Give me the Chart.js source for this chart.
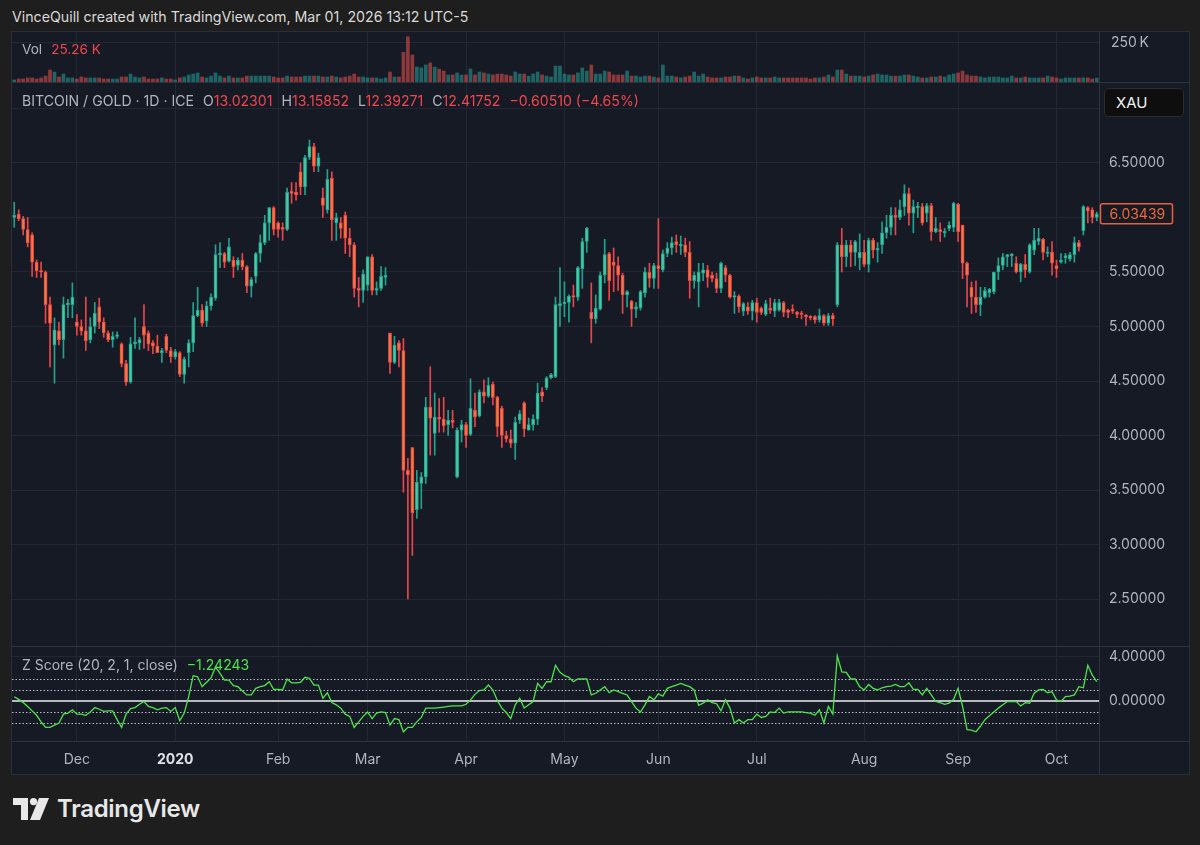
<!DOCTYPE html>
<html lang="en">
<head>
  <meta charset="UTF-8">
  <meta name="viewport" content="width=device-width, initial-scale=1.0">
  <title>BITCOIN / GOLD · 1D · ICE</title>
  <script src="https://cdn.jsdelivr.net/npm/chart.js"></script>
  <style>
    html, body { margin: 0; padding: 0; width: 1200px; height: 845px; overflow: hidden; background: #1e1e1e; font-family: Inter, "Noto Sans", sans-serif; }
    #frame { position: absolute; left: 11px; top: 31px; width: 1177px; height: 742px; border: 1px solid #2a2e39; background: #161a25; }
    #myChart { position: absolute; left: 0; top: 0; }
    .txt { position: absolute; white-space: nowrap; height: 18px; line-height: 18px; }
    .gray { color: #b2b5be; }
    .red { color: #f0474f; }
    .grn { color: #4fe34f; }
    .gap { margin-left: 9px; }
    #xau { position: absolute; left: 1104px; top: 88px; height: 27px; background: #0e0e0f; border: 1px solid #2c2c2e; border-radius: 5px; color: #f2f2f2; font-size: 15px; line-height: 27px; padding-left: 11px; width: 67px; }
  </style>
</head>
<body>
  <div class="txt" style="left:12px; top:8px; font-size:14.2px; color:#dadada;">VinceQuill created with TradingView.com, Mar 01, 2026 13:12 UTC-5</div>
  <div id="frame"><canvas id="myChart" width="1177" height="742"></canvas></div>

  <div class="txt" style="left:22px; top:40px; font-size:13.6px;"><span class="gray">Vol</span><span class="red gap">25.26 K</span></div>
  <div class="txt" style="left:22px; top:92px; font-size:14.1px;"><span class="gray">BITCOIN / GOLD · 1D · ICE</span><span class="gray gap">O</span><span class="red">13.02301</span><span class="gray gap">H</span><span class="red">13.15852</span><span class="gray gap">L</span><span class="red">12.39271</span><span class="gray gap">C</span><span class="red">12.41752</span><span class="red gap">−0.60510 (−4.65%)</span></div>
  <div class="txt" style="left:22px; top:656px; font-size:14px;"><span class="gray">Z Score (20, 2, 1, close)</span><span class="grn gap">−1.24243</span></div>
  <div id="xau">XAU</div>

  <svg style="position:absolute; left:13px; top:798px;" width="36" height="22" viewBox="0 0 36 22">
    <path d="M0 0 H15 V22 H8 V7 H0 Z" fill="#e8e8e8"/>
    <circle cx="20.5" cy="3.6" r="3.6" fill="#e8e8e8"/>
    <path d="M26 0 H36 L27 22 H17 Z" fill="#e8e8e8"/>
  </svg>
  <div class="txt" style="left:57px; top:794px; height:30px; line-height:30px; font-size:24px; font-weight:600; color:#e8e8e8; letter-spacing:-0.3px;">TradingView</div>

  <script>
    const FONT = 'Inter, "Noto Sans", sans-serif';

    // daily candles, 243 sessions from mid Nov 2019 to mid Oct 2020
    const opens = [6.00,6.03,5.99,5.89,5.84,5.59,5.51,5.50,5.20,4.83,4.96,4.88,5.20,5.20,5.04,5.00,4.96,4.88,5.00,5.18,5.04,4.94,4.88,4.91,4.84,4.66,4.49,4.84,4.85,5.00,4.94,4.85,4.82,4.76,4.91,4.78,4.72,4.76,4.56,4.76,4.85,5.10,5.15,5.05,5.19,5.26,5.66,5.67,5.60,5.61,5.56,5.61,5.55,5.37,5.46,5.67,5.77,5.95,6.09,5.95,5.91,5.89,6.24,6.23,6.42,6.28,6.55,6.65,6.47,6.18,6.07,6.36,5.95,5.95,6.02,5.81,5.75,5.35,5.33,5.38,5.64,5.33,5.35,5.45,4.94,4.67,4.85,4.78,3.68,3.89,3.32,3.56,3.62,4.26,4.02,4.17,4.15,4.10,4.14,3.62,4.05,4.10,4.01,4.23,4.18,4.40,4.36,4.47,4.35,4.25,4.00,3.97,3.93,4.14,4.30,4.05,4.10,4.15,4.40,4.44,4.53,4.54,5.19,5.21,5.22,5.28,5.27,5.53,5.78,5.13,5.07,5.16,5.47,5.67,5.59,5.56,5.47,5.29,5.23,5.16,5.17,5.31,5.50,5.44,5.56,5.52,5.67,5.72,5.78,5.74,5.75,5.68,5.42,5.41,5.49,5.52,5.47,5.44,5.35,5.54,5.47,5.27,5.28,5.14,5.18,5.14,5.22,5.17,5.11,5.17,5.14,5.15,5.22,5.15,5.16,5.13,5.12,5.10,5.09,5.09,5.06,5.10,5.03,5.10,5.20,5.75,5.64,5.75,5.68,5.63,5.68,5.57,5.79,5.70,5.75,5.86,5.91,6.02,6.00,6.10,6.22,6.04,6.09,6.10,6.04,6.11,5.87,5.89,5.86,5.90,5.91,6.12,5.93,5.58,5.36,5.27,5.20,5.27,5.31,5.32,5.50,5.56,5.64,5.65,5.58,5.50,5.57,5.50,5.70,5.78,5.80,5.67,5.68,5.56,5.59,5.63,5.62,5.66,5.77,5.88,6.09,6.07,6.00];
    const highs = [6.14,6.07,6.01,6.00,5.86,5.61,5.59,5.51,5.27,5.08,5.04,5.27,5.25,5.40,5.11,5.06,5.27,5.08,5.22,5.26,5.08,4.96,4.95,4.95,4.85,4.69,4.90,5.08,4.90,5.20,4.96,4.87,4.92,4.80,4.93,4.81,4.79,4.77,4.72,4.88,5.22,5.36,5.20,5.23,5.30,5.75,5.77,5.68,5.81,5.64,5.63,5.67,5.56,5.45,5.68,5.84,6.02,6.09,6.10,5.96,5.95,6.27,6.32,6.32,6.50,6.57,6.71,6.68,6.59,6.27,6.44,6.42,6.04,6.00,6.05,5.90,5.77,5.45,5.52,5.64,5.66,5.41,5.55,5.54,4.94,4.91,4.87,4.89,3.79,3.89,3.68,3.66,4.35,4.63,4.39,4.34,4.35,4.23,4.23,4.07,4.14,4.12,4.52,4.39,4.42,4.51,4.53,4.49,4.36,4.27,4.04,4.05,4.17,4.23,4.31,4.16,4.19,4.48,4.44,4.54,4.57,5.27,5.54,5.41,5.29,5.38,5.55,5.81,5.91,5.40,5.29,5.50,5.80,5.68,5.72,5.64,5.49,5.33,5.24,5.22,5.33,5.54,5.58,5.58,5.99,5.70,5.77,5.82,5.84,5.83,5.81,5.78,5.50,5.58,5.58,5.56,5.50,5.49,5.59,5.56,5.48,5.32,5.29,5.22,5.22,5.24,5.26,5.18,5.24,5.26,5.25,5.25,5.23,5.16,5.20,5.14,5.14,5.11,5.10,5.10,5.16,5.11,5.12,5.12,5.77,5.90,5.79,5.79,5.79,5.85,5.79,5.81,5.81,5.77,5.96,6.02,6.09,6.09,6.16,6.30,6.27,6.16,6.14,6.13,6.13,6.13,6.00,5.95,5.90,5.96,6.14,6.13,5.93,5.59,5.41,5.42,5.36,5.36,5.35,5.50,5.63,5.67,5.66,5.67,5.64,5.58,5.66,5.76,5.90,5.90,5.81,5.73,5.78,5.61,5.67,5.67,5.68,5.82,5.79,6.11,6.10,6.09,6.05];
    const lows = [5.91,5.97,5.84,5.73,5.46,5.45,5.45,5.03,4.63,4.48,4.83,4.71,5.08,5.08,4.92,4.92,4.78,4.85,4.94,4.98,4.90,4.86,4.81,4.89,4.63,4.46,4.48,4.80,4.79,4.80,4.78,4.75,4.76,4.67,4.76,4.67,4.70,4.54,4.48,4.63,4.77,5.09,5.00,5.00,5.15,5.24,5.54,5.54,5.59,5.45,5.52,5.52,5.31,5.27,5.40,5.59,5.75,5.79,5.84,5.82,5.79,5.88,6.13,6.16,6.21,6.21,6.53,6.42,6.42,6.00,6.04,5.79,5.79,5.81,5.67,5.64,5.27,5.18,5.22,5.33,5.29,5.29,5.33,5.38,4.57,4.66,4.63,3.48,2.50,2.90,3.24,3.33,3.56,3.82,3.82,4.03,4.03,4.00,4.07,3.61,3.94,3.89,4.00,4.08,4.17,4.30,4.35,4.28,3.99,3.89,3.94,3.89,3.78,4.11,3.99,4.05,4.05,4.10,4.31,4.42,4.52,4.53,5.00,5.09,5.04,5.18,5.24,5.35,5.68,4.85,5.03,5.15,5.40,5.24,5.32,5.33,5.12,5.18,5.00,5.08,5.15,5.27,5.36,5.35,5.35,5.50,5.64,5.66,5.68,5.66,5.64,5.26,5.35,5.18,5.42,5.36,5.41,5.31,5.31,5.41,5.26,5.12,5.13,5.10,5.11,5.06,5.04,5.11,5.10,5.12,5.09,5.14,5.09,5.08,5.12,5.08,5.07,5.01,5.06,5.03,5.04,5.01,5.01,5.01,5.18,5.50,5.55,5.55,5.56,5.52,5.55,5.50,5.63,5.59,5.67,5.81,5.84,5.84,5.98,6.02,5.93,5.86,6.00,5.93,5.96,5.79,5.86,5.78,5.82,5.88,5.87,5.78,5.44,5.18,5.12,5.13,5.10,5.26,5.27,5.30,5.43,5.52,5.55,5.55,5.49,5.41,5.45,5.49,5.66,5.75,5.61,5.64,5.47,5.45,5.58,5.58,5.60,5.59,5.69,5.84,5.95,5.95,5.97];
    const closes = [6.02,5.99,5.89,5.77,5.59,5.51,5.50,5.20,5.03,4.97,4.88,5.20,5.21,5.27,5.00,4.96,4.87,5.00,5.12,5.04,4.94,4.88,4.91,4.92,4.66,4.49,4.84,4.86,4.88,4.92,4.84,4.82,4.76,4.78,4.78,4.72,4.77,4.56,4.70,4.85,5.10,5.15,5.03,5.19,5.27,5.66,5.67,5.59,5.73,5.55,5.61,5.55,5.37,5.43,5.67,5.77,5.95,6.09,5.89,5.89,5.89,6.23,6.22,6.21,6.28,6.55,6.65,6.47,6.55,6.11,6.35,5.98,6.00,5.90,5.81,5.75,5.35,5.33,5.48,5.64,5.33,5.35,5.46,5.47,4.67,4.83,4.78,3.68,3.64,3.29,3.57,3.62,4.26,4.16,4.17,4.15,4.09,4.14,4.12,4.05,4.10,4.00,4.25,4.17,4.40,4.36,4.46,4.35,4.08,4.00,3.97,3.93,4.12,4.20,4.06,4.10,4.15,4.39,4.36,4.53,4.56,5.20,5.21,5.22,5.28,5.27,5.54,5.78,5.90,5.07,5.17,5.47,5.66,5.42,5.56,5.47,5.29,5.32,5.16,5.18,5.32,5.50,5.44,5.56,5.53,5.67,5.72,5.77,5.75,5.75,5.68,5.42,5.47,5.50,5.52,5.45,5.44,5.35,5.58,5.47,5.27,5.28,5.18,5.21,5.14,5.22,5.13,5.13,5.21,5.15,5.22,5.22,5.13,5.13,5.14,5.11,5.11,5.09,5.08,5.06,5.10,5.03,5.10,5.07,5.75,5.64,5.75,5.68,5.78,5.68,5.57,5.79,5.70,5.72,5.86,5.91,6.02,6.00,6.07,6.22,6.04,6.10,6.10,5.95,6.11,5.87,5.90,5.87,5.87,5.93,6.13,5.87,5.58,5.47,5.27,5.20,5.27,5.33,5.34,5.50,5.56,5.64,5.66,5.66,5.50,5.57,5.52,5.75,5.79,5.81,5.68,5.68,5.58,5.53,5.61,5.65,5.66,5.77,5.73,6.10,6.06,6.00,6.03439];
    // volume in thousands
    const volK = [13,19,19,26,26,19,26,38,77,64,32,51,26,26,19,32,26,26,26,26,19,19,19,19,32,32,51,32,26,32,19,19,19,26,19,19,13,26,32,45,51,58,32,26,38,58,38,26,38,26,26,26,38,38,38,38,38,38,32,26,26,38,32,32,32,38,38,38,38,32,32,38,32,26,32,38,51,32,32,26,26,26,19,26,64,32,32,190,290,173,96,90,109,122,96,83,70,45,45,58,45,45,83,45,64,58,51,45,51,51,45,38,64,51,51,38,51,64,45,38,32,102,102,51,45,45,58,90,70,109,51,51,70,64,45,45,45,70,38,38,32,38,38,32,26,109,38,38,32,26,32,38,64,38,51,32,26,26,26,32,32,38,38,26,19,26,32,26,26,26,32,26,26,26,26,26,26,26,19,26,26,32,45,32,77,77,51,38,38,38,32,38,45,51,45,45,38,38,38,45,45,38,32,26,26,32,32,38,32,45,51,58,70,45,38,38,32,26,32,32,32,26,26,38,26,26,32,26,26,26,26,38,32,26,19,26,26,26,26,26,26,19,25.26];
    const zScore = [0.39,0.15,-0.15,-0.5,-0.9,-1.3,-1.9,-2.4,-2.4,-2.2,-2.0,-1.2,-1.1,-0.8,-1.2,-1.2,-1.3,-1.0,-0.6,-0.75,-0.95,-0.9,-0.9,-1.7,-2.4,-1.2,-0.7,-0.6,-0.3,-0.05,-0.5,-0.6,-0.8,-0.65,-0.6,-0.95,-0.6,-1.8,-1.1,0.4,2.3,2.2,1.3,1.7,2.1,3.1,2.5,1.9,1.9,1.4,1.3,0.9,0.55,0.55,1.15,1.3,1.4,1.75,1.05,1.05,1.0,2.0,1.65,1.65,1.7,2.15,2.05,1.45,1.45,0.25,0.75,-0.15,-0.35,-0.65,-1.2,-1.4,-2.4,-1.9,-1.4,-1.0,-1.6,-1.1,-1.0,-1.05,-2.2,-1.6,-1.7,-2.8,-2.4,-2.4,-1.9,-1.5,-0.65,-0.65,-0.65,-0.6,-0.55,-0.5,-0.45,-0.45,-0.45,-0.3,0.1,0.6,0.95,1.0,1.45,1.0,0.05,-0.65,-1.05,-1.6,-0.35,0.25,-0.65,-0.35,-0.05,1.6,1.15,1.75,1.75,3.25,2.6,2.3,2.15,1.75,2.0,2.0,2.0,0.55,0.7,1.0,1.3,0.75,1.0,0.85,0.7,0.55,-0.05,-0.65,-1.0,-0.35,0.4,0.1,0.65,0.45,1.15,1.3,1.45,1.6,1.45,1.3,1.0,-0.4,-0.2,0.1,-0.15,-0.25,-0.9,0.1,-0.65,-2.0,-1.7,-2.0,-1.7,-1.7,-1.2,-1.5,-1.4,-1.0,-1.05,-0.65,-1.1,-1.0,-1.0,-1.0,-1.0,-1.05,-1.1,-1.3,-0.8,-2.0,-0.5,-1.2,4.1,2.65,2.6,2.0,2.0,1.3,1.0,1.5,1.15,1.0,1.2,1.3,1.35,1.5,1.3,1.3,1.65,1.05,1.05,0.55,1.15,0.55,-0.05,-0.15,-0.3,-0.2,0.15,1.15,-0.5,-2.6,-2.65,-2.8,-2.3,-1.7,-1.35,-1.0,-0.65,-0.35,-0.05,-0.05,-0.05,-0.45,-0.15,-0.2,0.7,1.0,1.05,0.75,0.85,0.1,-0.05,0.4,0.45,0.55,1.3,1.2,3.25,2.35,1.75];

    // axis ticks
    const monthTicks = [14, 36, 59, 79, 101, 123, 144, 166, 190, 211, 233];
    const monthLabels = ['Dec', '2020', 'Feb', 'Mar', 'Apr', 'May', 'Jun', 'Jul', 'Aug', 'Sep', 'Oct'];
    const priceTicks = [2.5, 3.0, 3.5, 4.0, 4.5, 5.0, 5.5, 6.0, 6.5, 7.0];
    const hiddenPriceLabels = [6.0, 7.0]; // covered by the last price tag and the XAU tag
    const volTicks = [250000];
    const zTicks = [4, 0];
    const zBands = [2, 1, -1, -2];

    const n = closes.length;
    const isUp = closes.map((c, i) => c >= opens[i]);

    const wickData = closes.map((c, i) => ({ x: i, y: [lows[i], highs[i]] }));
    const bodyData = closes.map((c, i) => ({ x: i, y: [Math.min(opens[i], c), Math.max(opens[i], c)] }));
    const volData = volK.map((v, i) => ({ x: i, y: v * 1000 }));
    const zData = zScore.map((v, i) => ({ x: i, y: v }));

    const upLine = '#22a28e', downLine = '#e8464b';
    const upFill = '#45c9a6', downFill = '#f27a3e';

    const gridColor = '#232734';
    const sepColor = '#2e323e';
    const tickColor = '#b2b5be';

    const fitY = (s) => { s.width = 90; s.paddingTop = 0; s.paddingBottom = 0; };

    const paneDecor = {
      id: 'paneDecor',
      beforeDatasetsDraw(chart) {
        const { ctx, chartArea, scales } = chart;
        const yz = scales.yZ;
        ctx.save();
        ctx.lineWidth = 1;
        ctx.strokeStyle = 'rgba(214,216,224,0.85)';
        ctx.setLineDash([1.5, 2]);
        zBands.forEach(v => {
          const y = Math.round(yz.getPixelForValue(v)) + 0.5;
          ctx.beginPath();
          ctx.moveTo(chartArea.left, y);
          ctx.lineTo(chartArea.right, y);
          ctx.stroke();
        });
        ctx.setLineDash([]);
        ctx.strokeStyle = '#eceef2';
        ctx.lineWidth = 1.6;
        const y0 = yz.getPixelForValue(0);
        ctx.beginPath();
        ctx.moveTo(chartArea.left, y0);
        ctx.lineTo(chartArea.right, y0);
        ctx.stroke();
        ctx.restore();
      },
      afterDraw(chart) {
        const { ctx, chartArea, scales, width } = chart;
        ctx.save();
        ctx.strokeStyle = sepColor;
        ctx.lineWidth = 1;
        [scales.yPrice.top, scales.yZ.top, scales.x.top].forEach(t => {
          const y = Math.round(t) + 0.5;
          ctx.beginPath();
          ctx.moveTo(0, y);
          ctx.lineTo(width, y);
          ctx.stroke();
        });
        const xr = Math.round(chartArea.right) + 0.5;
        ctx.beginPath();
        ctx.moveTo(xr, scales.x.top);
        ctx.lineTo(xr, scales.x.bottom);
        ctx.stroke();

        // last price tag
        const yp = scales.yPrice;
        const last = closes[n - 1];
        const py = yp.getPixelForValue(last);
        const bx = yp.left + 1.5;
        ctx.fillStyle = '#161a25';
        ctx.strokeStyle = '#e8603c';
        ctx.lineWidth = 1.5;
        ctx.beginPath();
        ctx.roundRect(bx, py - 10, 72, 20, 2);
        ctx.fill();
        ctx.stroke();
        ctx.fillStyle = '#f0693c';
        ctx.font = '14px ' + FONT;
        ctx.textBaseline = 'middle';
        ctx.textAlign = 'left';
        ctx.fillText(last.toFixed(5), bx + 9, py + 1);
        ctx.restore();
      }
    };

    const ctx = document.getElementById('myChart').getContext('2d');
    const myChart = new Chart(ctx, {
      type: 'bar',
      data: {
        datasets: [
          {
            label: 'Volume',
            yAxisID: 'yVol',
            data: volData,
            backgroundColor: isUp.map(u => u ? 'rgba(38,166,154,0.55)' : 'rgba(239,83,80,0.55)'),
            barThickness: 3,
            grouped: false,
            order: 4
          },
          {
            label: 'Wicks',
            yAxisID: 'yPrice',
            data: wickData,
            backgroundColor: isUp.map(u => u ? upLine : downLine),
            barThickness: 1,
            grouped: false,
            order: 3
          },
          {
            label: 'Bodies',
            yAxisID: 'yPrice',
            data: bodyData,
            backgroundColor: isUp.map(u => u ? upFill : downFill),
            borderColor: isUp.map(u => u ? upLine : downLine),
            borderWidth: 1,
            borderSkipped: false,
            minBarLength: 1.5,
            barThickness: 3.2,
            grouped: false,
            order: 2
          },
          {
            type: 'line',
            label: 'Z Score',
            yAxisID: 'yZ',
            data: zData,
            borderColor: '#4fe34f',
            borderWidth: 1.3,
            pointRadius: 0,
            tension: 0,
            order: 1
          }
        ]
      },
      options: {
        responsive: false,
        animation: false,
        events: [],
        layout: { padding: 0 },
        plugins: { legend: { display: false }, tooltip: { enabled: false } },
        scales: {
          x: {
            type: 'linear',
            min: -0.5,
            max: n - 0.5,
            offset: false,
            afterBuildTicks: s => { s.ticks = monthTicks.map(v => ({ value: v })); },
            afterFit: s => { s.height = 33; s.paddingLeft = 0; s.paddingRight = 0; },
            ticks: {
              autoSkip: false,
              maxRotation: 0,
              padding: 10,
              callback: v => monthLabels[monthTicks.indexOf(v)] ?? '',
              color: c => (c.tick && c.tick.value === 36) ? '#dfe1e6' : tickColor,
              font: c => ({ family: FONT, size: 14, weight: (c.tick && c.tick.value === 36) ? '700' : '400' })
            },
            grid: { color: gridColor, drawTicks: false, offset: false },
            border: { color: sepColor }
          },
          yVol: {
            type: 'linear',
            position: 'right',
            stack: 'panes',
            stackWeight: 50,
            weight: 1,
            min: 0,
            max: 320500,
            afterBuildTicks: s => { s.ticks = volTicks.map(v => ({ value: v })); },
            afterFit: fitY,
            ticks: { padding: 12, color: tickColor, font: { family: FONT, size: 14 }, callback: v => (v / 1000) + '\u2009K' },
            grid: { color: gridColor, drawTicks: false },
            border: { color: sepColor }
          },
          yPrice: {
            type: 'linear',
            position: 'right',
            stack: 'panes',
            stackWeight: 564,
            weight: 2,
            min: 2.069,
            max: 7.243,
            afterBuildTicks: s => { s.ticks = priceTicks.map(v => ({ value: v })); },
            afterFit: fitY,
            ticks: {
              padding: 10, color: tickColor, font: { family: FONT, size: 14 },
              callback: v => hiddenPriceLabels.includes(v) ? '' : v.toFixed(5)
            },
            grid: { color: gridColor, drawTicks: false },
            border: { color: sepColor }
          },
          yZ: {
            type: 'linear',
            position: 'right',
            stack: 'panes',
            stackWeight: 95,
            weight: 3,
            min: -3.64,
            max: 5.0,
            afterBuildTicks: s => { s.ticks = zTicks.map(v => ({ value: v })); },
            afterFit: fitY,
            ticks: { padding: 10, color: tickColor, font: { family: FONT, size: 14 }, callback: v => v.toFixed(5) },
            grid: { color: gridColor, drawTicks: false },
            border: { color: sepColor }
          }
        }
      },
      plugins: [paneDecor]
    });
  </script>
</body>
</html>
